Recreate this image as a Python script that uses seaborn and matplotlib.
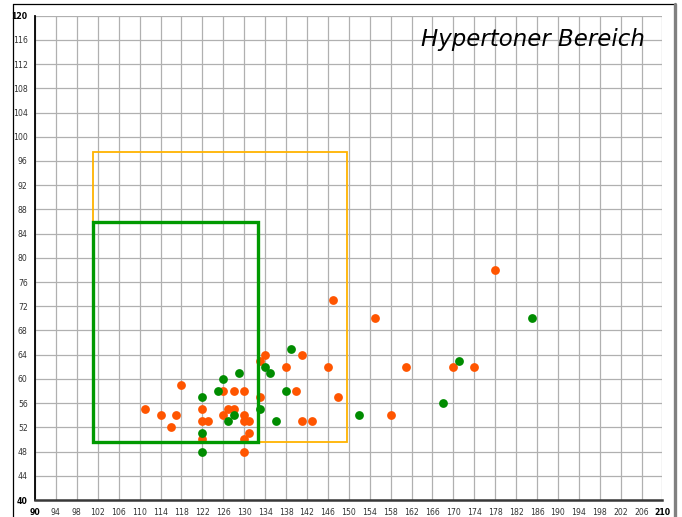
import matplotlib
matplotlib.use("Agg")
import matplotlib.pyplot as plt
import seaborn as sns
import pandas as pd
from matplotlib.patches import Rectangle
from matplotlib.lines import Line2D

# systolic / diastolic readings
orange_x = [111, 114, 117, 116, 118, 122, 122, 123, 122, 126, 128, 130, 127, 128,
            126, 130, 130, 131, 131, 130, 130, 133, 133, 134, 141, 138, 146, 140,
            148, 141, 143, 147, 178, 161, 170, 174, 158, 155]
orange_y = [55, 54, 54, 52, 59, 55, 53, 53, 50, 58, 58, 58, 55, 55,
            54, 54, 53, 53, 51, 50, 48, 57, 63, 64, 64, 62, 62, 58,
            57, 53, 53, 73, 78, 62, 62, 62, 54, 70]
green_x = [122, 122, 122, 125, 126, 129, 128, 127, 133, 134, 135, 136, 139, 138,
           152, 185, 171, 168]
green_y = [57, 51, 48, 58, 60, 61, 54, 53, 55, 62, 61, 53, 65, 58,
           54, 70, 63, 56]

# target zones (x0, x1, y0, y1)
outer_zone = (101, 149.7, 49.5, 97.5)
inner_zone = (101, 132.7, 49.5, 86)

x_ticks = list(range(90, 211, 4))
y_ticks = list(range(40, 121, 4))
title = "Hypertoner Bereich"

sns.set_style("white")
plt.rcParams['font.family'] = ['DejaVu Sans']

fig = plt.figure(figsize=(6.82, 5.17), dpi=100)
ax = fig.add_axes([35 / 682, 1 - 500 / 517, (662.5 - 35) / 682, (500 - 15.7) / 517])

df_o = pd.DataFrame({"x": orange_x, "y": orange_y})
df_g = pd.DataFrame({"x": green_x, "y": green_y})
sns.scatterplot(data=df_o, x="x", y="y", ax=ax, color="#ff5500", s=40,
                linewidth=0, zorder=3)
sns.scatterplot(data=df_g, x="x", y="y", ax=ax, color="#008c00", s=40,
                linewidth=0, zorder=4)

for (x0, x1, y0, y1), col, lw in [(outer_zone, "#ffb300", 1.3),
                                  (inner_zone, "#009900", 2.4)]:
    ax.add_patch(Rectangle((x0, y0), x1 - x0, y1 - y0, fill=False,
                           edgecolor=col, linewidth=lw, zorder=5))

ax.set_xlim(90, 210)
ax.set_ylim(40, 120)
ax.set_xticks(x_ticks)
ax.set_yticks(y_ticks)
ax.grid(True, color="#b0b0b0", linewidth=0.9, zorder=0)
ax.set_axisbelow(True)
ax.set_xlabel("")
ax.set_ylabel("")

for side in ["top", "right"]:
    ax.spines[side].set_visible(False)
ax.spines["left"].set_color("black")
ax.spines["left"].set_linewidth(1.3)
ax.spines["bottom"].set_color("#383838")
ax.spines["bottom"].set_linewidth(1.8)

ax.tick_params(axis="x", direction="inout", length=4, width=1, pad=3.5,
               labelsize=5.6, colors="#333333")
ax.tick_params(axis="y", direction="inout", length=4.5, width=1, pad=3,
               labelsize=5.6, colors="#333333")
for lbl in ax.get_xticklabels():
    if lbl.get_text() in ("90", "210"):
        lbl.set_fontweight("bold")
        lbl.set_color("black")
for lbl in ax.get_yticklabels():
    if lbl.get_text() in ("40", "120"):
        lbl.set_fontweight("bold")
        lbl.set_color("black")

fig.text(421 / 682, 1 - 46 / 517, title, fontsize=16.5, style="italic",
         ha="left", va="baseline", color="black")

# outer frame
fig.add_artist(Line2D([12.5 / 682, 674 / 682], [1 - 3.5 / 517] * 2,
                      color="black", linewidth=0.9))
fig.add_artist(Line2D([12.5 / 682] * 2, [0, 1 - 3.5 / 517],
                      color="black", linewidth=0.9))
fig.add_artist(Line2D([674.5 / 682] * 2, [0, 1 - 3.5 / 517],
                      color="#808080", linewidth=2.4))

fig.savefig("out.png", dpi=100)
